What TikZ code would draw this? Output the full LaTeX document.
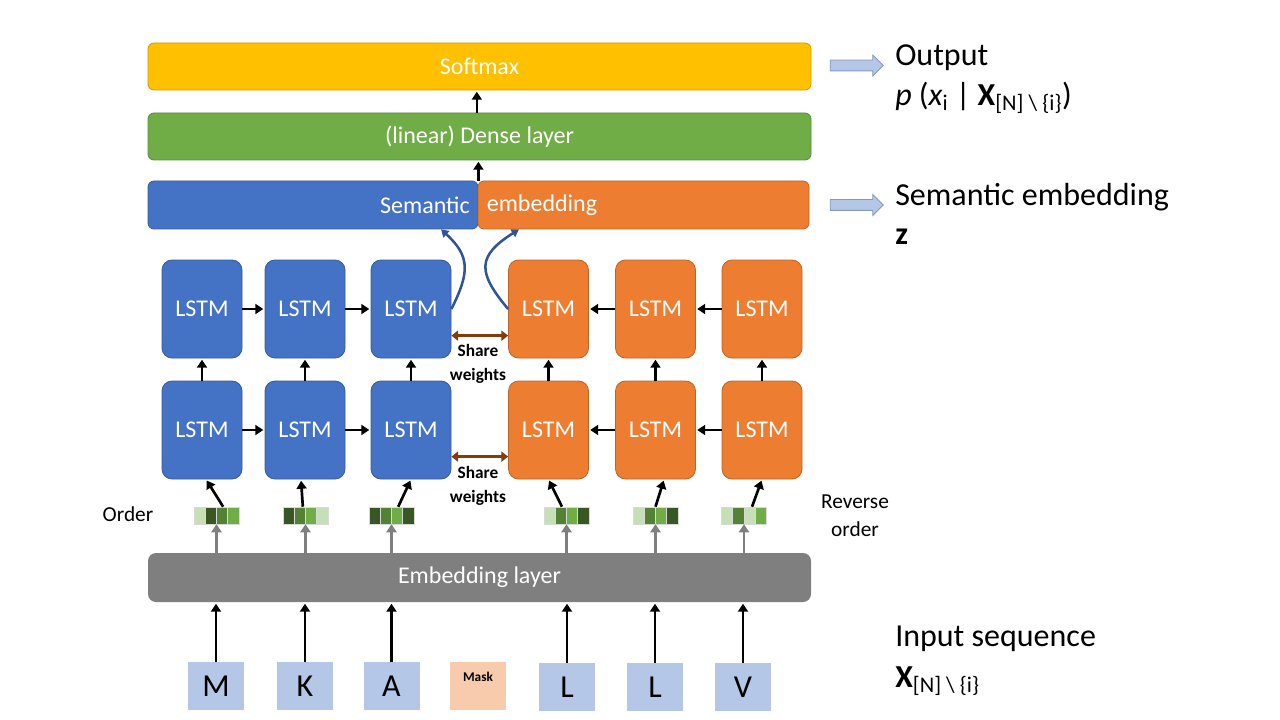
\documentclass[tikz,border=0pt]{standalone}
\usepackage{fontspec}
\setmainfont{Carlito}
\usetikzlibrary{positioning,arrows.meta,shapes.arrows}
\definecolor{lblue}{HTML}{4472C4}
\definecolor{lorange}{HTML}{ED7D31}
\definecolor{lgreen}{HTML}{70AD47}
\definecolor{lgold}{HTML}{FFC000}
\definecolor{lgray}{HTML}{7F7F7F}
\definecolor{tokblue}{HTML}{B4C7E7}
\definecolor{maskc}{HTML}{F8CBAD}
\definecolor{navy}{HTML}{2F5597}
\definecolor{brown}{HTML}{843C0C}
\definecolor{vl}{HTML}{C5E0B4}
\definecolor{vd}{HTML}{385723}
\definecolor{vm}{HTML}{548235}
\definecolor{vg}{HTML}{70AD47}
\begin{document}
\begin{tikzpicture}[
							x=0.75pt,
							y=-0.75pt,
							box/.style={draw=#1!80!black, fill=#1, line width=0.6pt, rounded corners=4.5pt, text=white, inner sep=0pt, font=\fontsize{18}{22}\selectfont},
							wide/.style={box=#1, minimum width=497.25pt, minimum height=35.25pt},
							half/.style={box=#1, minimum width=247.5pt, minimum height=36pt},
							lstm/.style={box=#1, minimum width=60pt, minimum height=73.5pt, rounded corners=7.5pt},
							vec/.style={minimum width=33.75pt, minimum height=12.75pt, inner sep=0pt},
							tok/.style={fill=tokblue, minimum width=42pt, minimum height=36pt, inner sep=0pt, font=\fontsize{24}{28}\selectfont},
							arr/.style={-{Triangle[length=6pt,width=7.5pt]}, line width=2pt, shorten >=1pt},
							garr/.style={-{Triangle[length=6pt,width=7.5pt]}, line width=2.2pt, draw=lgray},
							share/.style={{Triangle[length=5pt,width=7.5pt]}-{Triangle[length=5pt,width=7.5pt]}, line width=2.2pt, draw=brown},
							carr/.style={-{Triangle[length=5.5pt,width=6.5pt]}, line width=1.9pt, draw=navy},
							barr/.style={single arrow, fill=tokblue, draw=navy!60, line width=0.6pt, inner sep=3.75pt, single arrow head extend=3.75pt, minimum height=39.75pt},
							side/.style={anchor=west, inner sep=0pt, font=\fontsize{24}{29}\selectfont},
							note/.style={align=center, inner sep=0pt, font=\bfseries\fontsize{13}{18}\selectfont}
						]
						\useasboundingbox (0,0) rectangle (1280,720);
						\node[wide=lgold] (softmax) at (479.5,66.5) {Softmax};
						\node[wide=lgreen] (dense) at (479.5,136.5) {(linear) Dense layer};
						\node[half=lblue, text width=235pt, align=right] (sem) at (313,205) {Semantic};
						\node[half=lorange, text width=235pt, align=left, minimum width=248.25pt] (embd) at (643.5,205) {embedding};
						\node[box=lgray, draw=none, minimum width=497.25pt, minimum height=36.75pt, rounded corners=6pt] (embl) at (479.5,577.5) {Embedding layer};
						\foreach \x [count=\i] in {202,305,411} {
							\node[lstm=lblue] (ft\i) at (\x,309) {LSTM};
							\node[lstm=lblue] (fb\i) at (\x,430) {LSTM};
						}
						\foreach \x [count=\i] in {548.5,655.5,762} {
							\node[lstm=lorange] (rt\i) at (\x,309) {LSTM};
							\node[lstm=lorange] (rb\i) at (\x,430) {LSTM};
						}
						\foreach \i/\j in {1/2,2/3} {
							\draw[arr] (ft\i) -- (ft\j);
							\draw[arr] (fb\i) -- (fb\j);
							\draw[arr] (rt\j) -- (rt\i);
							\draw[arr] (rb\j) -- (rb\i);
						}
						\foreach \i in {1,2,3} {
							\draw[arr] (fb\i) -- (ft\i);
							\draw[arr] (rb\i) -- (rt\i);
						}
						\draw[share] ([yshift=-20pt]ft3.east) -- ([yshift=-20pt]rt1.west);
						\draw[share] ([yshift=-20pt]fb3.east) -- ([yshift=-20pt]rb1.west);
						\node[note] (sw1) at (478,364) {Share\\weights};
						\node[note] (sw2) at (478,485.5) {Share\\weights};
						\draw[carr] (ft3.east) .. controls (470,272) and (470,256) .. ([xshift=-28pt]sem.south east);
						\draw[carr] (rt1.west) .. controls (477,272) and (477,256) .. ([xshift=31pt]embd.south west);
						\draw[arr] ([xshift=-2pt]dense.north) -- ([xshift=-2pt]softmax.south);
						\draw[arr] (sem.north east) -- (sem.north east |- dense.south);
						\foreach \x/\cols [count=\n] in {216.5/{vl,vd,vm,vg},305.5/{vd,vm,vg,vl},391.5/{vd,vm,vg,vd},566.5/{vl,vm,vg,vd},655.5/{vl,vm,vg,vd},744/{vl,vm,vl,vg}} {
							\node[vec] (v\n) at (\x,515.5) {};
							\foreach \c [count=\k] in \cols
								\filldraw[fill=\c, draw=white!85!black, line width=0.3pt] ([xshift={(\k-1)*8.4375pt}]v\n.south west) rectangle ++(8.4375pt,12.75pt);
							\draw[garr] (v\n.south |- embl.north) -- (v\n.south);
						}
						\foreach \n/\a/\t/\b in {1/5/fb1/3,2/-2/fb2/-3,3/5/fb3/0,4/-3.4/rb1/0,5/0/rb2/6.4,6/6/rb3/0}
							\draw[arr] ([xshift=\a pt]v\n.north) -- ([xshift=\b pt]\t.south);
						\node[tok] (t1) at (216,686) {M};
						\node[tok] (t2) at (305,686) {K};
						\node[tok] (t3) at (391.5,686) {A};
						\node[tok, fill=maskc, label={[font=\bfseries\fontsize{10}{12}\selectfont, anchor=center, yshift=6.75pt]center:Mask}] (t4) at (478,686) {};
						\node[tok] (t5) at (567,687) {L};
						\node[tok] (t6) at (655,687) {L};
						\node[tok] (t7) at (743,687) {V};
						\foreach \n in {1,2,3,5,6,7}
							\draw[arr] (t\n) -- (t\n |- embl.south);
						\node[font=\fontsize{16}{20}\selectfont] (ord) at (128,514) {Order};
						\node[align=center, font=\fontsize{16}{21}\selectfont] (rev) at (855,516) {Reverse\\order};
						\node[barr] (oa) at (854,65.5) {};
						\node[barr] (sa) at (854,205) {};
						\node[side] (out) at (895,58) {Output};
						\node[side] (outp) at (895,98) {\textit{p} (\textit{x}\textsubscript{i} | \textbf{X}\textsubscript{[N] \textbackslash{} \{i\}})};
						\node[side] (semt) at (895,197) {Semantic embedding};
						\node[side] (z) at (895,237) {\textbf{z}};
						\node[side] (inp) at (895,639) {Input sequence};
						\node[side] (inpx) at (895,681) {\textbf{X}\textsubscript{[N] \textbackslash{} \{i\}}};
					\end{tikzpicture}
\end{document}
